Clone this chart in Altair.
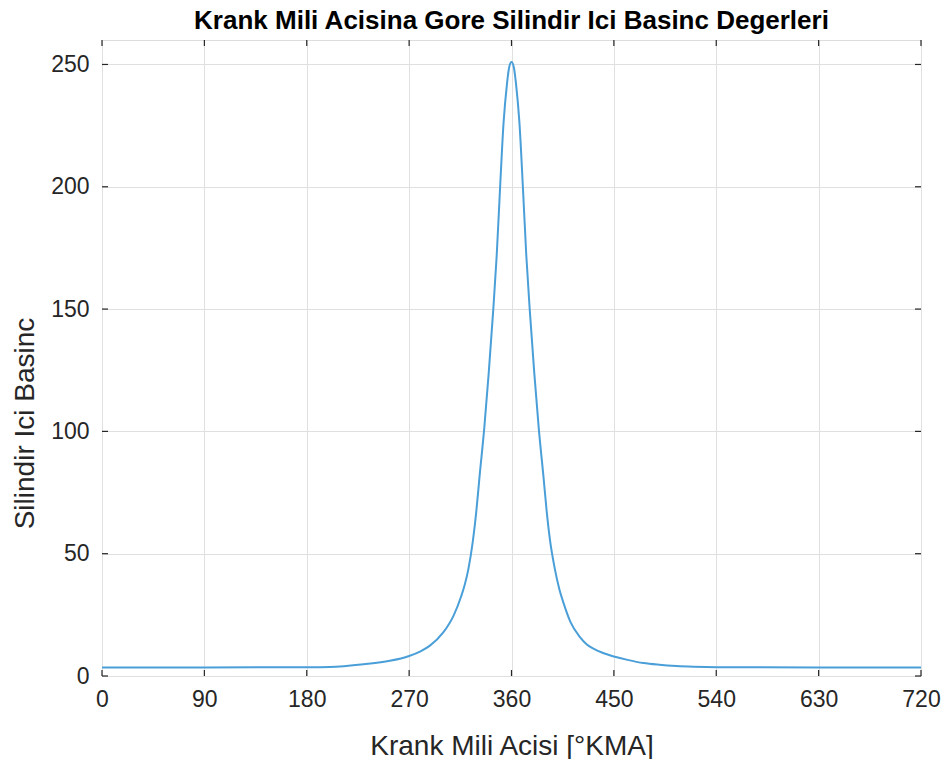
import altair as alt
import pandas as pd

# crank angle [deg] and in-cylinder pressure
angles = [0, 90, 180, 200, 230, 253, 270, 280, 288, 300, 309, 316, 319, 322, 326,
          329, 332, 336, 340, 344, 347, 350, 353, 356, 358, 360, 362, 364, 367, 370,
          373, 376, 380, 384, 388, 391, 394, 398, 402, 406, 412, 420, 426, 432, 440,
          450, 462, 476, 490, 505, 520, 540, 630, 720]
pressure = [3.5, 3.5, 3.6, 3.7, 4.8, 6.2, 8.2, 10.1, 12.3, 17.8, 24.6, 32.9, 37.5, 43.5, 55.0,
            67.0, 82.0, 101.0, 124.0, 150.0, 172.0, 200.0, 226.0, 242.0, 249.0, 251.0, 249.0, 242.0, 226.0, 200.0,
            172.0, 150.0, 124.0, 101.0, 82.0, 67.0, 55.0, 44.0, 35.6, 29.5, 21.9, 16.0, 13.0, 11.2, 9.5,
            8.0, 6.6, 5.3, 4.6, 4.1, 3.8, 3.6, 3.5, 3.5]

x_ticks = [0, 90, 180, 270, 360, 450, 540, 630, 720]
y_ticks = [0, 50, 100, 150, 200, 250]

W, H = 819, 636
FONT = "Liberation Sans"
TXT = "#262626"

df = pd.DataFrame({"angle": angles, "p": pressure})
xt = pd.DataFrame({"t": x_ticks})
yt = pd.DataFrame({"t": y_ticks})

xscale = alt.Scale(domain=[0, 720], nice=False, zero=False)
yscale = alt.Scale(domain=[0, 260], nice=False, zero=False)

line = alt.Chart(df).mark_line(color="#4a9fd8", strokeWidth=2, interpolate="monotone").encode(
    x=alt.X("angle:Q", scale=xscale,
            axis=alt.Axis(values=x_ticks, title="Krank Mili Acisi [°KMA]", ticks=False,
                          domain=False, grid=True, gridColor="#e0e0e0", gridWidth=1,
                          labelFlush=False,
                          labelFont=FONT, labelFontSize=23, labelColor=TXT, labelPadding=12,
                          titleFont=FONT, titleFontSize=28, titleFontWeight="normal",
                          titleColor=TXT, titleY=70, titleBaseline="middle")),
    y=alt.Y("p:Q", scale=yscale,
            axis=alt.Axis(values=y_ticks, title="Silindir Ici Basinc", ticks=False,
                          domain=False, grid=True, gridColor="#e0e0e0", gridWidth=1,
                          labelFlush=False,
                          labelFont=FONT, labelFontSize=23, labelColor=TXT, labelPadding=13,
                          titleFont=FONT, titleFontSize=28, titleFontWeight="normal",
                          titleColor=TXT, titleX=-77, titleY=383, titleAngle=270,
                          titleAlign="center", titleBaseline="middle")),
)

tick_style = dict(color=TXT, strokeWidth=1.2)
xb = alt.Chart(xt).mark_rule(**tick_style).encode(
    x=alt.X("t:Q", scale=xscale), y=alt.value(H), y2=alt.value(H - 6))
xtop = alt.Chart(xt).mark_rule(**tick_style).encode(
    x=alt.X("t:Q", scale=xscale), y=alt.value(0), y2=alt.value(6))
yl = alt.Chart(yt).mark_rule(**tick_style).encode(
    y=alt.Y("t:Q", scale=yscale), x=alt.value(0), x2=alt.value(6))
yr = alt.Chart(yt).mark_rule(**tick_style).encode(
    y=alt.Y("t:Q", scale=yscale), x=alt.value(W), x2=alt.value(W - 6))

chart = alt.layer(line, xb, xtop, yl, yr).properties(
    width=W, height=H,
    title=alt.TitleParams("Krank Mili Acisina Gore Silindir Ici Basinc Degerleri",
                          font=FONT, fontSize=26, fontWeight="bold", color="#000000",
                          anchor="middle", offset=5),
    autosize=alt.AutoSizeParams(type="none"),
    padding={"left": 94, "top": 32, "right": 20, "bottom": 83},
).configure_view(stroke="#262626", strokeWidth=1.5).configure(background="white")

chart.save("out.html", embed_options={"renderer": "svg", "actions": False})
